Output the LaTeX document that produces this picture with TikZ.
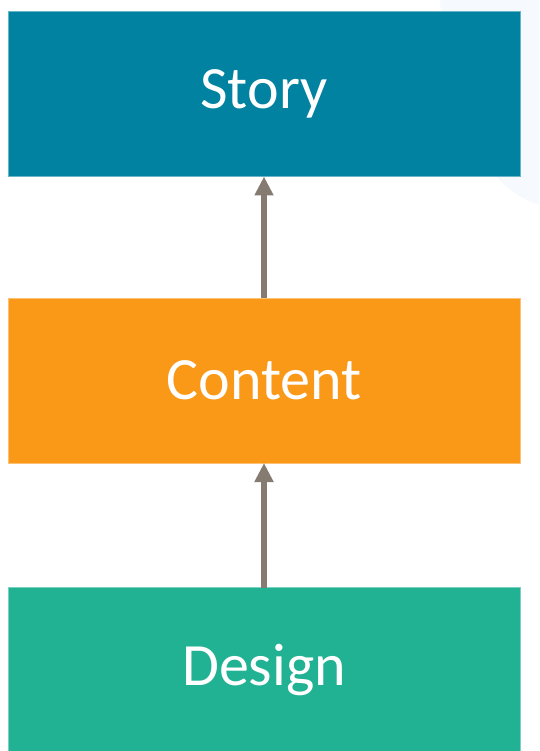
\documentclass[tikz,border=0pt]{standalone}
\usepackage{fontspec}
\setmainfont{Carlito}
\usetikzlibrary{arrows.meta, positioning}
\definecolor{storyblue}{RGB}{0,130,160}
\definecolor{contentorange}{RGB}{250,152,24}
\definecolor{designgreen}{RGB}{33,178,148}
\definecolor{arrowgray}{RGB}{134,123,112}
\definecolor{swoosh}{RGB}{246,249,253}

\begin{document}
\begin{tikzpicture}[x=1pt,y=-1pt,>={Triangle[length=19pt,width=18pt]},
  box/.style={rectangle, minimum width=512pt, minimum height=165pt, inner sep=0pt, outer sep=0pt,
              text=white, font=\fontsize{60}{60}\selectfont, draw=#1!60!white, line width=0.8pt, fill=#1}]

\useasboundingbox (0,0) rectangle (539,751);
\fill[swoosh] (440,0) .. controls (450,140) and (495,190) .. (539,205) -- (539,0) -- cycle;

\node[box=storyblue] (story) at (264,94) {Story};
\node[box=contentorange] (content) at (264,380.5) {Content};
\node[box=designgreen] (design) at (264,670) {Design};

\path[->, arrowgray, line width=5.5pt]
  (content.north) edge (story.south)
  (design.north) edge (content.south);

\end{tikzpicture}
\end{document}
